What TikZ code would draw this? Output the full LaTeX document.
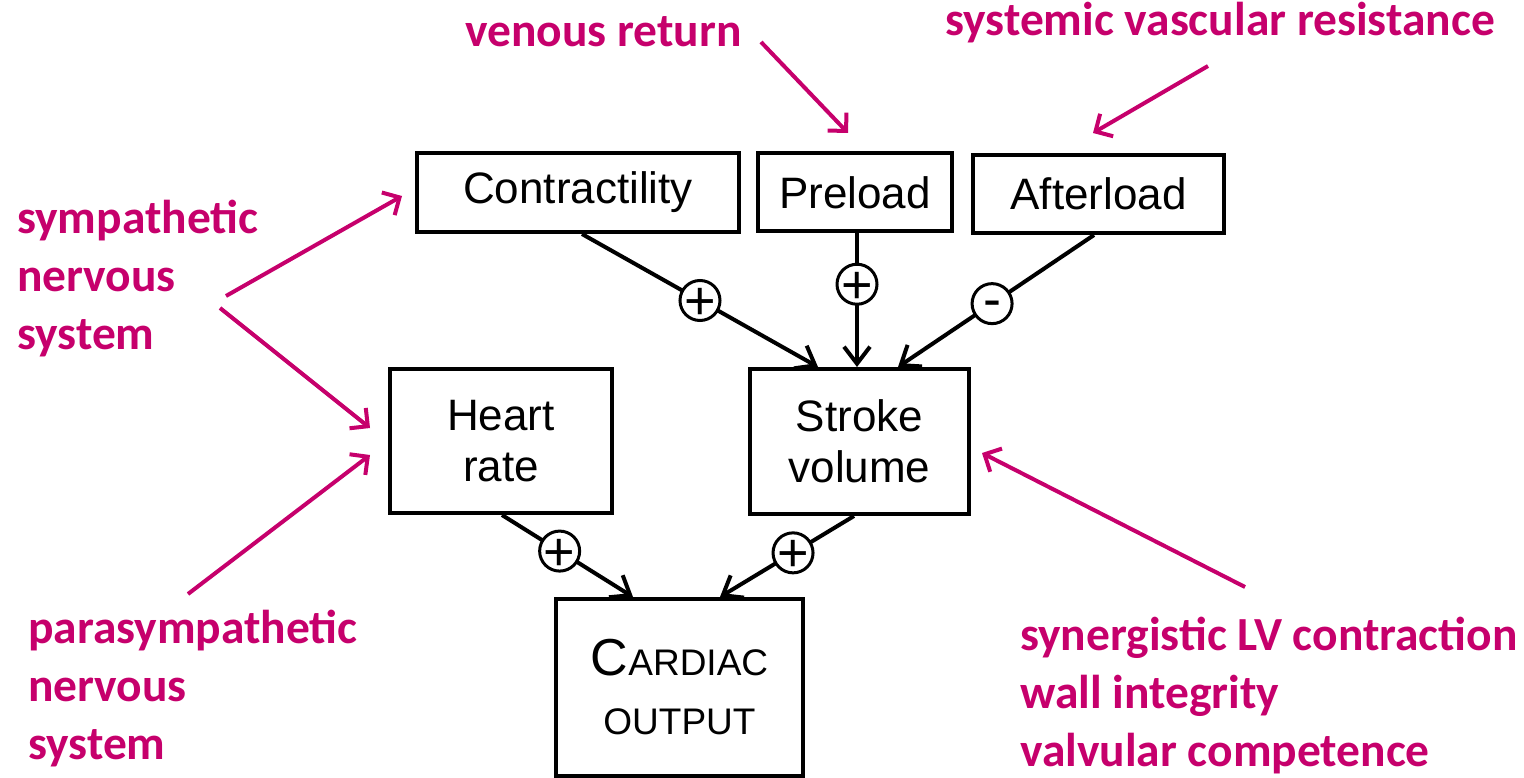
\documentclass[tikz,border=0pt]{standalone}
\usepackage{fontspec}
\setmainfont{Liberation Sans}
\newfontfamily\calib{Carlito}
\usetikzlibrary{arrows.meta}
\definecolor{mag}{RGB}{198,0,108}
\newcommand{\pmsign}[2]{\raisebox{-#2}[0pt][0pt]{#1}}
\tikzset{
  blkbox/.style={draw, line width=4pt, inner sep=0pt, align=center, font=\fontsize{44}{51}\selectfont},
  blk/.style={line width=4pt, -{Straight Barb[length=17pt,width=26pt]}},
  pm/.style={circle, draw, fill=white, line width=3pt, minimum size=40pt, inner sep=0pt, font=\fontsize{54}{54}\selectfont},
  lab/.style={text=mag, inner sep=0pt, font=\calib\bfseries\fontsize{47.5}{58}\selectfont},
  mg/.style={draw=mag, line width=4pt, -{Straight Barb[length=13pt,width=26pt]}}
}
\begin{document}
\begin{tikzpicture}[x=1pt,y=-1pt]
\useasboundingbox (0,0) rectangle (1524,778);
% boxes
\node[blkbox, minimum width=322pt, minimum height=79pt] (contr) at (578,192.5) {Contractility};
\node[blkbox, minimum width=194pt, minimum height=78pt] (pre) at (855,192.5) {Preload};
\node[blkbox, minimum width=251pt, minimum height=78pt] (after) at (1098.5,194) {Afterload};
\node[blkbox, minimum width=222pt, minimum height=144pt] (hr) at (501,441) {Heart\\rate};
\node[blkbox, minimum width=219pt, minimum height=145pt] (sv) at (859.5,441.5) {Stroke\\volume};
\node[blkbox, minimum width=247pt, minimum height=177pt, font=\fontsize{37}{56}\selectfont] (co) at (679.5,687.5) {\raisebox{3pt}{{\fontsize{52}{56}\selectfont C}ARDIAC}\\OUTPUT};
% black connectors
\draw[blk] ([xshift=4pt]contr.south) -- node[pm, pos=0.5] {\pmsign{+}{19pt}} ([xshift=-41.5pt]sv.north);
\draw[blk] ([xshift=2pt]pre.south) -- node[pm, pos=0.38] {\pmsign{+}{19pt}} ([xshift=-2.5pt]sv.north);
\draw[blk] ([xshift=-4.5pt]after.south) -- node[pm, pos=0.52] {\pmsign{-}{14pt}} ([xshift=38.5pt]sv.north);
\draw[blk] ([xshift=1pt]hr.south) -- node[pm, pos=0.44] {\pmsign{+}{19pt}} ([xshift=-46.5pt]co.north);
\draw[blk] ([xshift=-5.5pt]sv.south) -- node[pm, pos=0.455] {\pmsign{+}{19pt}} ([xshift=40.5pt]co.north);
% magenta labels
\node[lab, anchor=base west] (venous) at (465,47) {venous return};
\node[lab, anchor=base west] (svr) at (945,36) {systemic vascular resistance};
\node[lab, anchor=base west, align=left] (symp) at (17,349) {sympathetic\\nervous\\system};
\node[lab, anchor=base west, align=left] (para) at (28,759) {parasympathetic\\nervous\\system};
\node[lab, anchor=base west, align=left] (syn) at (1020,766) {synergistic LV contraction\\wall integrity\\valvular competence};
% magenta arrows
\coordinate (v1) at (761,42);   \coordinate (v2) at (848,133);
\coordinate (s1) at (1208,66);  \coordinate (s2) at (1093,133);
\coordinate (y1) at (226,296);  \coordinate (y2) at (402,196);
\coordinate (y3) at (220,308);  \coordinate (y4) at (370,428);
\coordinate (p1) at (188,594);  \coordinate (p2) at (370,455);
\coordinate (g1) at (1245,587); \coordinate (g2) at (982,453);
\draw[mg] (v1) -- (v2);
\draw[mg] (s1) -- (s2);
\draw[mg] (y1) -- (y2);
\draw[mg] (y3) -- (y4);
\draw[mg] (p1) -- (p2);
\draw[mg] (g1) -- (g2);
\end{tikzpicture}
\end{document}
